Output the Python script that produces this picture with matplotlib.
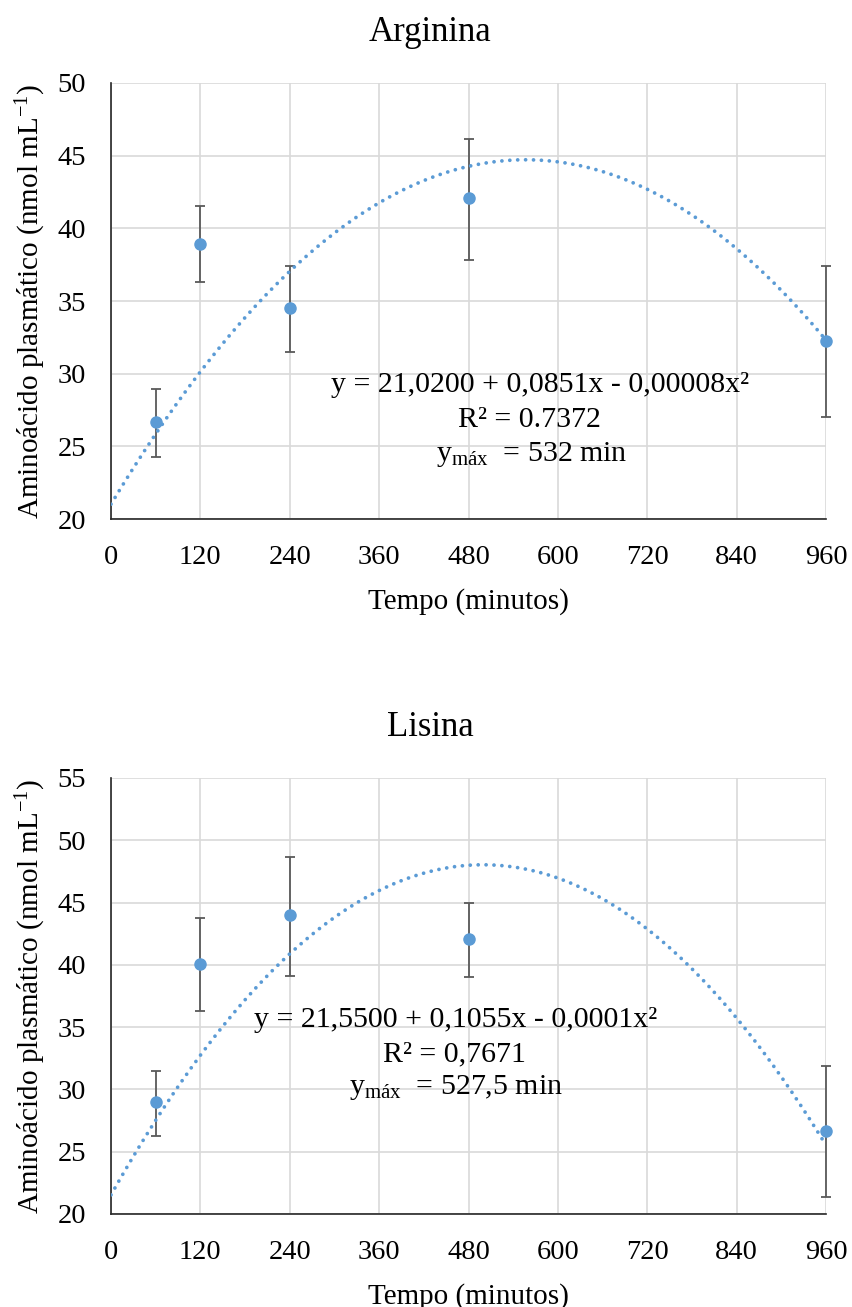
import numpy as np
import matplotlib
matplotlib.use("Agg")
import matplotlib.pyplot as plt

plt.rcParams['font.family'] = ['Liberation Serif', 'DejaVu Serif']
plt.rcParams['mathtext.fontset'] = 'custom'
plt.rcParams['mathtext.rm'] = 'Liberation Serif'
plt.rcParams['mathtext.it'] = 'Liberation Serif:italic'

# ---- data ----
time_min = [60, 120, 240, 480, 960]

arg_mean = [26.65, 38.92, 34.51, 42.09, 32.24]
arg_upper = [28.94, 41.53, 37.43, 46.13, 37.43]
arg_lower = [24.24, 36.30, 31.49, 37.84, 27.00]
arg_trend = [21.02, 0.0851, -0.0000764]   # c0, c1, c2 of drawn trend line

lis_mean = [28.97, 40.04, 43.98, 42.08, 26.69]
lis_upper = [31.50, 43.79, 48.68, 45.00, 31.90]
lis_lower = [26.26, 36.30, 39.13, 39.03, 21.39]
lis_trend = [21.53, 0.1061, -0.0001062]

x_ticks = [0, 120, 240, 360, 480, 600, 720, 840, 960]

arg_eq = ["y = 21,0200 + 0,0851x - 0,00008x²", "R² = 0.7372", r"y$_{\mathrm{máx}}$  = 532 min"]
lis_eq = ["y = 21,5500 + 0,1055x - 0,0001x²", "R² = 0,7671", r"y$_{\mathrm{máx}}$  = 527,5 min"]

BLUE = '#5B9BD5'
GRID = '#d9d9d9'
ERR = '#595959'
FS_TICK = 20.5
FS_LAB = 21
FS_EQ = 21.5
FS_TITLE = 25

fig = plt.figure(figsize=(8.53, 13.07), dpi=100)

def panel(rect, title, mean, upper, lower, trend, ylim, yticks, eq, eqpos):
    ax = fig.add_axes(rect)
    ax.set_xlim(0, 960)
    ax.set_ylim(*ylim)
    ax.set_xticks(x_ticks)
    ax.set_yticks(yticks)
    ax.grid(True, color=GRID, linewidth=1.2)
    ax.set_axisbelow(True)
    for s in ['top', 'right']:
        ax.spines[s].set_visible(False)
    for s in ['left', 'bottom']:
        ax.spines[s].set_color('#262626')
        ax.spines[s].set_linewidth(1.2)
    ax.tick_params(axis='y', length=0, labelsize=FS_TICK, pad=18)
    ax.tick_params(axis='x', length=0, labelsize=FS_TICK, pad=19)
    m = np.array(mean); u = np.array(upper); l = np.array(lower)
    ax.errorbar(time_min, m, yerr=[m - l, u - m], fmt='none', ecolor=ERR,
                elinewidth=1.3, capsize=3.8, capthick=1.3, zorder=3, clip_on=False)
    xx = np.linspace(0, 960, 400)
    yy = trend[0] + trend[1] * xx + trend[2] * xx ** 2
    ax.plot(xx, yy, color=BLUE, linestyle=(0, (0.01, 2.1)), linewidth=2.7,
            dash_capstyle='round', solid_capstyle='round', zorder=4)
    ax.plot(time_min, m, 'o', color=BLUE, markersize=8, zorder=5, clip_on=False)
    ax.set_title(title, fontsize=FS_TITLE, pad=30, x=0.446)
    ax.set_xlabel('Tempo (minutos)', fontsize=FS_LAB, labelpad=13)
    ax.set_ylabel(r'Aminoácido plasmático (nmol mL$^{\mathrm{-1}}$)', fontsize=FS_LAB, labelpad=7)
    for txt, (px, py) in zip(eq, eqpos):
        ax.text(px, py, txt, transform=ax.transAxes, ha='center', va='center',
                fontsize=FS_EQ, zorder=6)
    return ax

panel([0.1301, 0.6029, 0.8383, 0.3336], 'Arginina', arg_mean, arg_upper, arg_lower,
      arg_trend, (20, 50), [20, 25, 30, 35, 40, 45, 50], arg_eq,
      [(0.60, 0.307), (0.585, 0.227), (0.588, 0.147)])

panel([0.1301, 0.0712, 0.8383, 0.3336], 'Lisina', lis_mean, lis_upper, lis_lower,
      lis_trend, (20, 55), [20, 25, 30, 35, 40, 45, 50, 55], lis_eq,
      [(0.4825, 0.445), (0.481, 0.365), (0.483, 0.289)])

fig.savefig('out.png', dpi=100)
